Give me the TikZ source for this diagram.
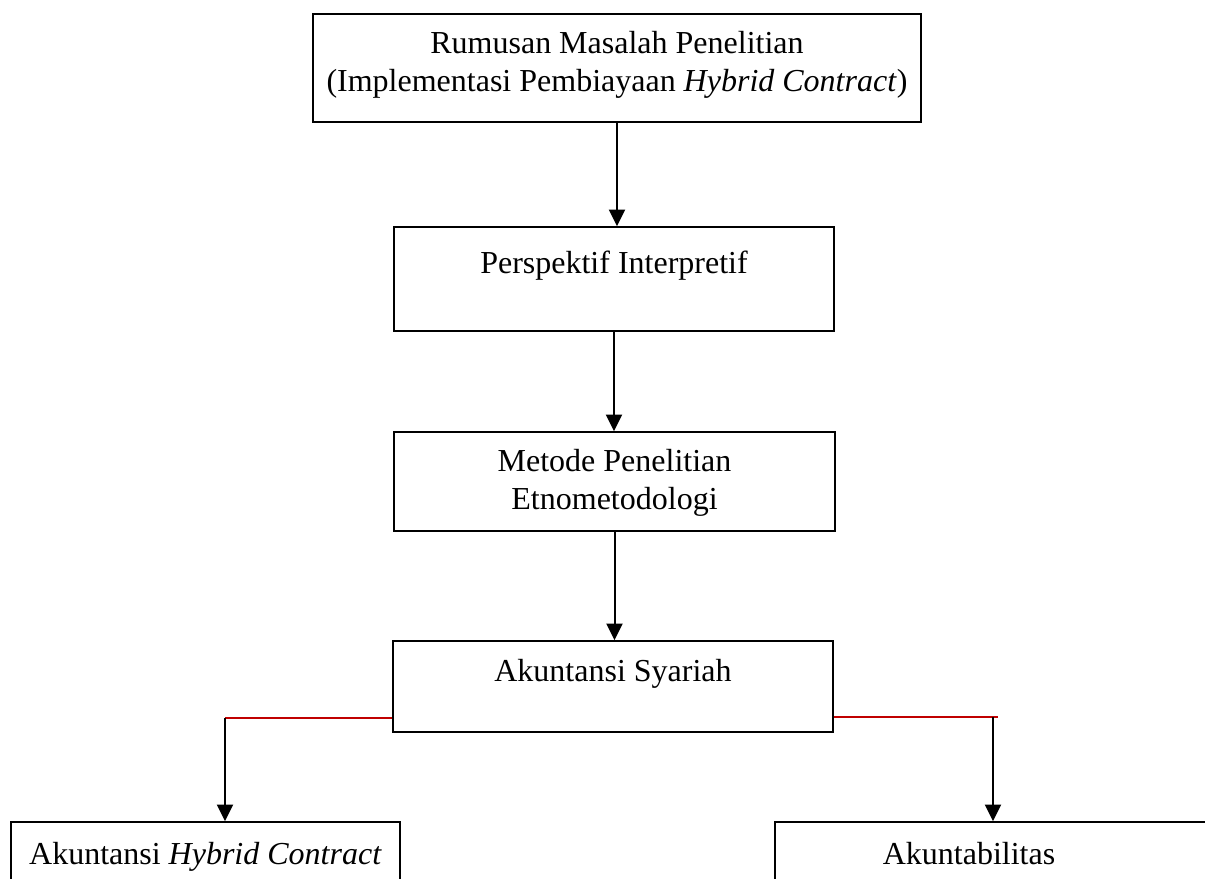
\documentclass[tikz,border=0pt]{standalone}
\usepackage{fontspec}
\setmainfont{Liberation Serif}
\usetikzlibrary{arrows.meta}

\tikzset{every picture/.style={line width=1pt}}
\tikzset{
  flowbox/.style={draw, line width=1.1pt, inner sep=0pt},
  flowtext/.style={align=center, font=\fontsize{24}{28.5}\selectfont},
  onetext/.style={flowtext, text height=0.7em, text depth=0.22em},
  flowarrow/.style={line width=1.5pt, -{Triangle[length=12.5pt,width=12pt]}},
  redline/.style={draw={rgb,255:red,192;green,0;blue,0}, line width=1.5pt}
}

\begin{document}
\begin{tikzpicture}[x=0.75pt,y=0.75pt,yscale=-1]
	\useasboundingbox (0,0) rectangle (1205,878);
	\clip (0,0) rectangle (1205,878);

	% Boxes
	\node [flowbox, minimum width=608*0.75pt, minimum height=108*0.75pt] (rm) at (617,68) {};
	\node [flowbox, minimum width=440*0.75pt, minimum height=104*0.75pt] (pi) at (614,279) {};
	\node [flowbox, minimum width=441*0.75pt, minimum height=99*0.75pt] (mp) at (614.5,481.5) {};
	\node [flowbox, minimum width=440*0.75pt, minimum height=91*0.75pt] (as) at (613,686.5) {};
	\node [flowbox, minimum width=389*0.75pt, minimum height=98*0.75pt] (ahc) at (205.5,871) {};
	\node [flowbox, minimum width=455*0.75pt, minimum height=98*0.75pt] (ak) at (1002.5,871) {};

	% Text Node
	\node [flowtext] (rmtext) at (617,65) {Rumusan Masalah Penelitian\\(Implementasi Pembiayaan \textit{Hybrid Contract})};
	% Text Node
	\node [onetext] (pitext) at (614,270) {Perspektif Interpretif};
	% Text Node
	\node [flowtext] (mptext) at (614.5,482.5) {Metode Penelitian\\Etnometodologi};
	% Text Node
	\node [onetext] (astext) at (613,678) {Akuntansi Syariah};
	% Text Node
	\node [onetext] (ahctext) at (205.5,861) {Akuntansi \textit{Hybrid Contract}};
	% Text Node
	\node [onetext] (aktext) at (969,861) {Akuntabilitas};

	% Branch points
	\coordinate (lj) at (225,718);
	\coordinate (rj) at (993,717);
	\coordinate (rend) at (998,717);

	% Straight Lines
	\draw [flowarrow] (rm.south) -- (rm.south |- pi.north);
	\draw [flowarrow] (pi.south) -- (pi.south |- mp.north);
	\draw [flowarrow] (mp.south) -- (mp.south |- as.north);

	% Red branches
	\draw [redline] (as.west |- lj) -- (lj);
	\draw [redline] (as.east |- rend) -- (rend);
	\draw [flowarrow] (lj) -- (lj |- ahc.north);
	\draw [flowarrow] (rj) -- (rj |- ak.north);

\end{tikzpicture}
\end{document}
